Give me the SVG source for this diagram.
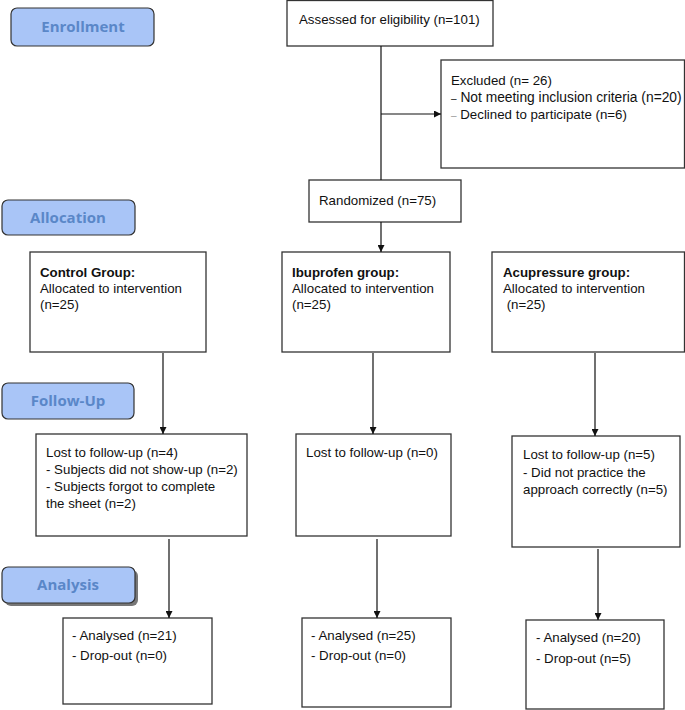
<svg xmlns="http://www.w3.org/2000/svg" width="685" height="710" viewBox="0 0 685 710">
<defs>
<style>
.box{fill:#fff;stroke:#333;stroke-width:1.3}
.hdr{fill:#a9c5f7;stroke:#333;stroke-width:1.2}
.shd{fill:#777;stroke:none}
.ht{font-family:"Open Sans","DejaVu Sans",sans-serif;font-weight:bold;font-size:15px;fill:#5a87c8;text-anchor:middle}
.t{font-family:"Liberation Sans",Arial,sans-serif;font-size:13.3px;fill:#111}
.b{font-weight:bold}
.conn{stroke:#111;stroke-width:1.2;fill:none}
</style>
<marker id="arr" viewBox="0 0 10 10" refX="10" refY="5" markerWidth="7" markerHeight="7" markerUnits="userSpaceOnUse" orient="auto">
<path d="M0,0 L10,5 L0,10 z" fill="#111"/>
</marker>
</defs>
<rect width="685" height="710" fill="#fff"/>

<g id="hdr-enrollment">
<rect class="hdr" x="11" y="8" width="143" height="38" rx="6"/>
<text class="ht" x="83" y="32">Enrollment</text>
</g>
<g id="hdr-allocation">
<rect class="hdr" x="2" y="200" width="133" height="35" rx="6"/>
<text class="ht" x="68" y="223">Allocation</text>
</g>
<g id="hdr-followup">
<rect class="hdr" x="2" y="383" width="132" height="36" rx="6"/>
<text class="ht" x="68" y="406">Follow-Up</text>
</g>
<g id="hdr-analysis">
<rect class="shd" x="5" y="570" width="133" height="36" rx="6"/>
<rect class="hdr" x="2" y="567" width="133" height="36" rx="6"/>
<text class="ht" x="68" y="590">Analysis</text>
</g>

<g id="assessed">
<rect class="box" x="287" y="0.5" width="206" height="45.5"/>
<text class="t" x="299" y="24" font-size="12.6">Assessed for eligibility (n=101)</text>
</g>
<g id="excluded">
<rect class="box" x="441" y="60" width="243.5" height="108"/>
<text class="t" x="451" y="85">Excluded (n= 26)</text>
<text class="t" x="451" y="102"><tspan font-size="10">–</tspan><tspan font-size="13.8"> Not meeting inclusion criteria (n=20)</tspan></text>
<text class="t" x="451" y="119"><tspan font-size="10" fill="#999">–</tspan> Declined to participate (n=6)</text>
</g>
<g id="randomized">
<rect class="box" x="309" y="180" width="152" height="42"/>
<text class="t" x="319" y="205">Randomized (n=75)</text>
</g>

<g id="control">
<rect class="box" x="30" y="252" width="176" height="100"/>
<text class="t b" x="40" y="277">Control Group:</text>
<text class="t" x="40" y="293">Allocated to intervention</text>
<text class="t" x="40" y="309">(n=25)</text>
</g>
<g id="ibuprofen">
<rect class="box" x="282" y="252" width="168" height="100"/>
<text class="t b" x="292" y="277">Ibuprofen group:</text>
<text class="t" x="292" y="293">Allocated to intervention</text>
<text class="t" x="292" y="309">(n=25)</text>
</g>
<g id="acupressure">
<rect class="box" x="492" y="252" width="192.5" height="100"/>
<text class="t b" x="503" y="277">Acupressure group:</text>
<text class="t" x="503" y="293">Allocated to intervention</text>
<text class="t" x="503" y="309" xml:space="preserve"> (n=25)</text>
</g>

<g id="control-lost">
<rect class="box" x="36" y="434" width="211" height="102"/>
<text class="t" x="46" y="457">Lost to follow-up (n=4)</text>
<text class="t" x="46" y="474">- Subjects did not show-up (n=2)</text>
<text class="t" x="46" y="491">- Subjects forgot to complete</text>
<text class="t" x="46" y="508">the sheet (n=2)</text>
</g>
<g id="ibuprofen-lost">
<rect class="box" x="296" y="434" width="155" height="102"/>
<text class="t" x="306" y="457">Lost to follow-up (n=0)</text>
</g>
<g id="acupressure-lost">
<rect class="box" x="512" y="436" width="168" height="111"/>
<text class="t" x="523" y="459">Lost to follow-up (n=5)</text>
<text class="t" x="523" y="477">- Did not practice the</text>
<text class="t" x="523" y="494">approach correctly (n=5)</text>
</g>

<g id="control-analysis">
<rect class="box" x="63" y="618" width="149" height="86"/>
<text class="t" x="72" y="640">- Analysed (n=21)</text>
<text class="t" x="72" y="660">- Drop-out (n=0)</text>
</g>
<g id="ibuprofen-analysis">
<rect class="box" x="302" y="618" width="149" height="89"/>
<text class="t" x="311" y="640">- Analysed (n=25)</text>
<text class="t" x="311" y="660">- Drop-out (n=0)</text>
</g>
<g id="acupressure-analysis">
<rect class="box" x="526" y="620" width="138" height="89"/>
<text class="t" x="536" y="642">- Analysed (n=20)</text>
<text class="t" x="536" y="663">- Drop-out (n=5)</text>
</g>

<g id="connectors">
<line class="conn" x1="381" y1="46" x2="381" y2="180"/>
<line class="conn" x1="381" y1="114" x2="441" y2="114" marker-end="url(#arr)"/>
<line class="conn" x1="381" y1="222" x2="381" y2="252" marker-end="url(#arr)"/>
<line class="conn" x1="163" y1="353" x2="163" y2="434" marker-end="url(#arr)"/>
<line class="conn" x1="373" y1="353" x2="373" y2="434" marker-end="url(#arr)"/>
<line class="conn" x1="595" y1="353" x2="595" y2="436" marker-end="url(#arr)"/>
<line class="conn" x1="169" y1="539" x2="169" y2="618" marker-end="url(#arr)"/>
<line class="conn" x1="377" y1="539" x2="377" y2="618" marker-end="url(#arr)"/>
<line class="conn" x1="598" y1="549" x2="598" y2="620" marker-end="url(#arr)"/>
</g>
</svg>
